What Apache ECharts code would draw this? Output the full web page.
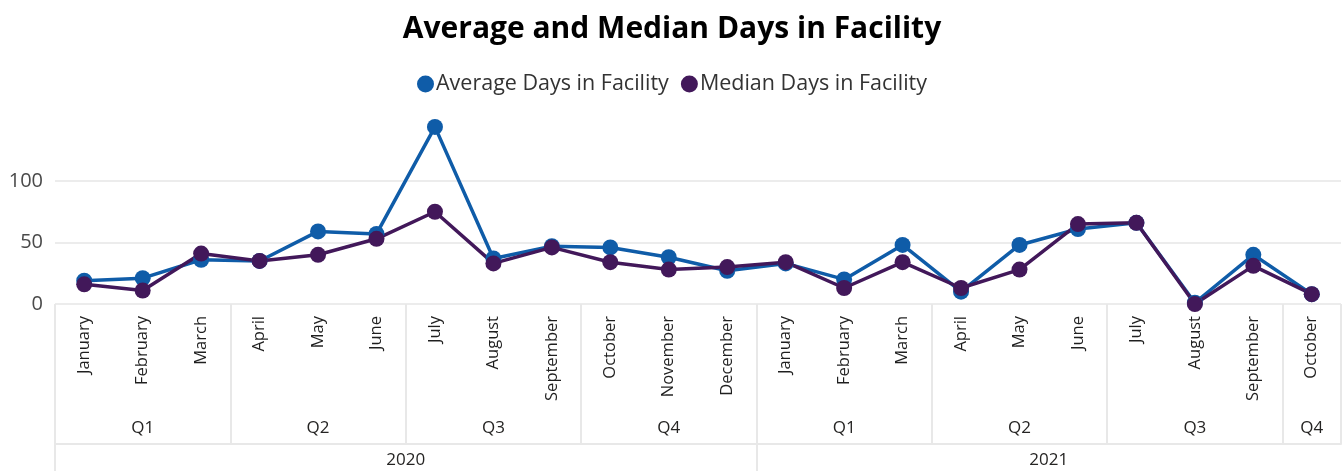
<!DOCTYPE html>
<html>
<head>
<meta charset="utf-8">
<script src="https://cdn.jsdelivr.net/npm/echarts@6/dist/echarts.min.js"></script>
<style>
  html, body { margin: 0; padding: 0; background: #fff; }
  #chart { width: 1344px; height: 471px; }
</style>
</head>
<body>
<div id="chart"></div>
<script>
var months = ['January', 'February', 'March', 'April', 'May', 'June', 'July', 'August', 'September', 'October', 'November', 'December',
              'January', 'February', 'March', 'April', 'May', 'June', 'July', 'August', 'September', 'October'];
// quarter label sits on the middle month of each quarter
var quarters = ['', 'Q1', '', '', 'Q2', '', '', 'Q3', '', '', 'Q4', '',
                '', 'Q1', '', '', 'Q2', '', '', 'Q3', '', 'Q4'];
var years = ['2020', '2021'];
var avgDays = [19, 21, 36, 35, 59, 57, 144, 37, 47, 46, 38, 27, 33, 20, 48, 10, 48, 61, 66, 1, 40, 8];
var medianDays = [16, 11, 41, 35, 40, 53, 75, 33, 46, 34, 28, 30, 34, 13, 34, 13, 28, 65, 66, 0, 31, 8];

// year row uses half-month slots (boundaryGap false) so labels can sit mid-span
var yearSlots = [];
for (var i = 0; i <= months.length * 2; i++) yearSlots.push('');
yearSlots[12] = years[0];
yearSlots[34] = years[1];

var font = 'Open Sans';
var sepColor = '#e8e8e8';

var chart = echarts.init(document.getElementById('chart'));
var option = {
    textStyle: { fontFamily: font },
    title: {
        text: 'Average and Median Days in Facility',
        left: 'center',
        top: 9,
        textStyle: { fontFamily: font, fontSize: 30, fontWeight: 'bold', color: '#000' }
    },
    legend: {
        top: 68,
        left: 'center',
        icon: 'circle',
        itemWidth: 17,
        itemHeight: 17,
        itemGap: 12,
        textStyle: { fontFamily: font, fontSize: 21.5, color: '#333', padding: [0, 0, 0, -3] },
        data: ['Average Days in Facility', 'Median Days in Facility']
    },
    grid: { left: 55, right: 0, top: 119.5, bottom: 167 },
    xAxis: [
        {
            type: 'category',
            data: months,
            boundaryGap: true,
            axisLine: { show: false },
            axisTick: {
                show: true,
                length: 140,
                interval: function (idx) { return idx % 3 === 0; },
                lineStyle: { color: sepColor, width: 2 }
            },
            axisLabel: { rotate: 90, interval: 0, margin: 12, fontSize: 16.5, color: '#1f1f1f', fontFamily: font }
        },
        {
            type: 'category',
            data: quarters,
            position: 'bottom',
            offset: 140,
            boundaryGap: true,
            axisLine: { show: true, lineStyle: { color: sepColor, width: 2 } },
            axisTick: { show: false },
            axisLabel: { inside: true, interval: 0, margin: 7, fontSize: 17, color: '#252423', fontFamily: font }
        },
        {
            type: 'category',
            data: yearSlots,
            position: 'bottom',
            offset: 140,
            boundaryGap: false,
            axisLine: { show: false },
            axisTick: {
                show: true,
                length: 30,
                interval: function (idx) { return idx === 0 || idx === 24; },
                lineStyle: { color: sepColor, width: 2 }
            },
            axisLabel: { interval: 0, margin: 8, fontSize: 17, color: '#252423', fontFamily: font }
        }
    ],
    yAxis: {
        type: 'value',
        min: 0,
        max: 150,
        interval: 50,
        axisLine: { show: false },
        axisTick: { show: false },
        axisLabel: {
            margin: 12,
            fontSize: 20,
            color: '#4a4a4a',
            fontFamily: font,
            formatter: function (v) { return v >= 150 ? '' : v; }
        },
        splitLine: { lineStyle: { color: ['#ececec', '#ececec', '#ececec', 'rgba(0,0,0,0)'], width: 2 } }
    },
    series: [
        {
            name: 'Average Days in Facility',
            type: 'line',
            data: avgDays,
            symbol: 'circle',
            symbolSize: 16,
            color: '#0f5ca8',
            lineStyle: { width: 3.5 },
            animation: false
        },
        {
            name: 'Median Days in Facility',
            type: 'line',
            data: medianDays,
            symbol: 'circle',
            symbolSize: 16,
            color: '#42185a',
            lineStyle: { width: 3.5 },
            animation: false
        }
    ]
};
chart.setOption(option);
</script>
</body>
</html>
